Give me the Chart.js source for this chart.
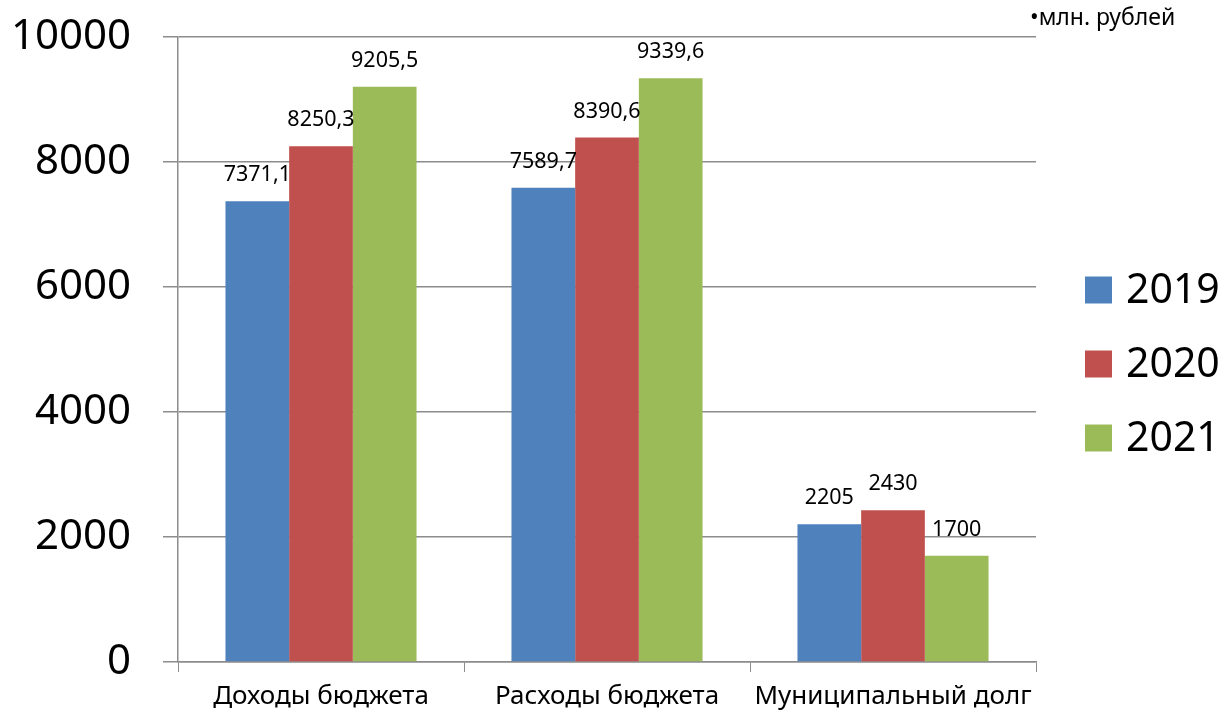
<!DOCTYPE html>
<html lang="ru">
<head>
    <meta charset="UTF-8">
    <title>Бюджет</title>
    <style>
        body {
            margin: 0;
            padding: 0;
            background: #fff;
        }
        .container {
            width: 1223px;
            height: 714px;
            position: relative;
        }
    </style>
    <script src="https://cdn.jsdelivr.net/npm/chart.js"></script>
</head>
<body>
    <div class="container">
        <canvas id="budgetChart" width="1223" height="714"></canvas>
    </div>
    <script>
        // Data
        const categories = ['Доходы бюджета', 'Расходы бюджета', 'Муниципальный долг'];
        const years = ['2019', '2020', '2021'];
        const values2019 = [7371.1, 7589.7, 2205];
        const values2020 = [8250.3, 8390.6, 2430];
        const values2021 = [9205.5, 9339.6, 1700];
        const yTicks = [0, 2000, 4000, 6000, 8000, 10000];
        const unitNote = '•млн. рублей';

        const colors = ['#4F81BD', '#C0504D', '#9BBB59'];
        const font = "'Noto Sans', 'Open Sans', sans-serif";
        const gridColor = '#8c8c8c';

        // Value labels above the bars, comma as decimal separator
        const valueLabels = {
            id: 'valueLabels',
            afterDatasetsDraw(chart) {
                const ctx = chart.ctx;
                ctx.save();
                ctx.font = '21.5px ' + font;
                ctx.fillStyle = '#000';
                ctx.textAlign = 'center';
                ctx.textBaseline = 'middle';
                chart.data.datasets.forEach((ds, i) => {
                    chart.getDatasetMeta(i).data.forEach((bar, j) => {
                        const txt = String(ds.data[j]).replace('.', ',');
                        ctx.fillText(txt, bar.x, bar.y - 26);
                    });
                });
                ctx.restore();
            }
        };

        // Legend on the right and the unit note
        const sideLegend = {
            id: 'sideLegend',
            afterDraw(chart) {
                const ctx = chart.ctx;
                ctx.save();
                ctx.font = '41px ' + font;
                ctx.textBaseline = 'middle';
                ctx.textAlign = 'left';
                chart.data.datasets.forEach((ds, i) => {
                    const cy = 290 + i * 74;
                    ctx.fillStyle = ds.backgroundColor;
                    ctx.fillRect(1085, cy - 13.5, 27, 27);
                    ctx.fillStyle = '#000';
                    ctx.fillText(ds.label, 1126, cy + 1);
                });
                ctx.font = '23px ' + font;
                ctx.fillText(unitNote, 1030, 18);
                ctx.restore();
            }
        };

        const ctx = document.getElementById('budgetChart').getContext('2d');
        const budgetChart = new Chart(ctx, {
            type: 'bar',
            data: {
                labels: categories,
                datasets: [
                    { label: years[0], data: values2019, backgroundColor: colors[0] },
                    { label: years[1], data: values2020, backgroundColor: colors[1] },
                    { label: years[2], data: values2021, backgroundColor: colors[2] }
                ]
            },
            options: {
                responsive: false,
                animation: false,
                layout: {
                    padding: { top: 37, right: 187, bottom: 0, left: 0 }
                },
                datasets: {
                    bar: {
                        categoryPercentage: 0.668,
                        barPercentage: 1
                    }
                },
                plugins: {
                    legend: { display: false },
                    tooltip: { enabled: false }
                },
                scales: {
                    x: {
                        afterFit(scale) {
                            scale.height = 52;
                            scale.paddingLeft = 0;
                            scale.paddingRight = 0;
                        },
                        grid: {
                            drawOnChartArea: false,
                            drawTicks: true,
                            tickLength: 10,
                            color: gridColor
                        },
                        border: { color: gridColor, width: 1.5 },
                        ticks: {
                            color: '#000',
                            padding: 9,
                            autoSkip: false,
                            maxRotation: 0,
                            minRotation: 0,
                            font: { family: font, size: 26 }
                        }
                    },
                    y: {
                        min: 0,
                        max: 10000,
                        afterFit(scale) {
                            scale.width = 178;
                            scale.paddingTop = 0;
                            scale.paddingBottom = 0;
                        },
                        afterBuildTicks(scale) {
                            scale.ticks = yTicks.map(v => ({ value: v }));
                        },
                        grid: {
                            color: gridColor,
                            lineWidth: 1.5,
                            tickLength: 15
                        },
                        border: { color: gridColor, width: 1.5 },
                        ticks: {
                            color: '#000',
                            padding: 32,
                            font: { family: font, size: 42 },
                            callback: v => String(v)
                        }
                    }
                }
            },
            plugins: [valueLabels, sideLegend]
        });
    </script>
</body>
</html>
